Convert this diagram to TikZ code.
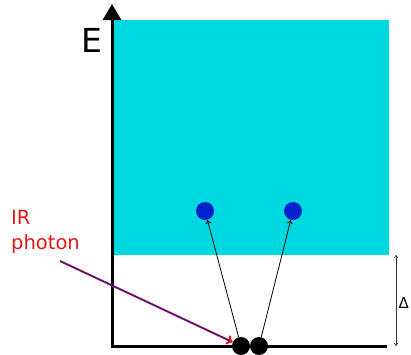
\documentclass[tikz,border=0pt]{standalone}
\usepackage{fontspec}
\setmainfont{DejaVu Sans}
\usetikzlibrary{arrows.meta,positioning,calc}
\definecolor{band}{RGB}{0,216,224}
\definecolor{elec}{RGB}{0,34,204}
\definecolor{irred}{RGB}{230,20,20}
\begin{document}
\begin{tikzpicture}[
 x=1pt,y=-1pt,
 dot/.style={circle,fill=black,inner sep=0pt,minimum size=18pt},
 edot/.style={circle,fill=elec,inner sep=0pt,minimum size=18pt},
 axis/.style={line width=3pt},
 exc/.style={-{To[length=4pt,width=6pt]},line width=0.8pt},
 gap/.style={{To[length=3pt,width=4pt]}-{To[length=3pt,width=4pt]},line width=0.6pt,black!80}
]
\useasboundingbox (0,0) rectangle (411,354);
\fill[band] (113,20) rectangle (389,255);
\draw[axis,-{Triangle[width=18pt,length=16pt]}] (112,347.5) -- (112,4);
\draw[axis] (110.5,346) -- (387,346);
\node (E) at (92,40) {\fontsize{33}{36}\selectfont E};
\node[edot] (e1) at (205,211) {};
\node[edot] (e2) at (293,211) {};
\node[dot] (g1) at (241,346) {};
\node[dot] (g2) at (259,346) {};
\draw[exc] (g1) -- (e1);
\draw[exc] (g2) -- (e2);
\node[irred,align=left,anchor=north west,inner sep=0pt,font=\fontsize{19.5}{25}\selectfont] (ir) at (11,210) {IR\\photon};
\coordinate (irstart) at (60,261);
\draw[irred,line width=2pt,-{To[length=6pt,width=10pt]}] (irstart) -- (g1);
\draw[elec,line width=0.9pt,shorten >=4pt] (irstart) -- (g1);
\coordinate (gtop) at (396,255);
\coordinate (gbot) at (396,346);
\draw[gap] (gtop) -- (gbot);
\node[anchor=west,inner sep=0pt,font=\fontsize{15}{18}\selectfont] (delta) at (398.5,303) {Δ};
\end{tikzpicture}
\end{document}
